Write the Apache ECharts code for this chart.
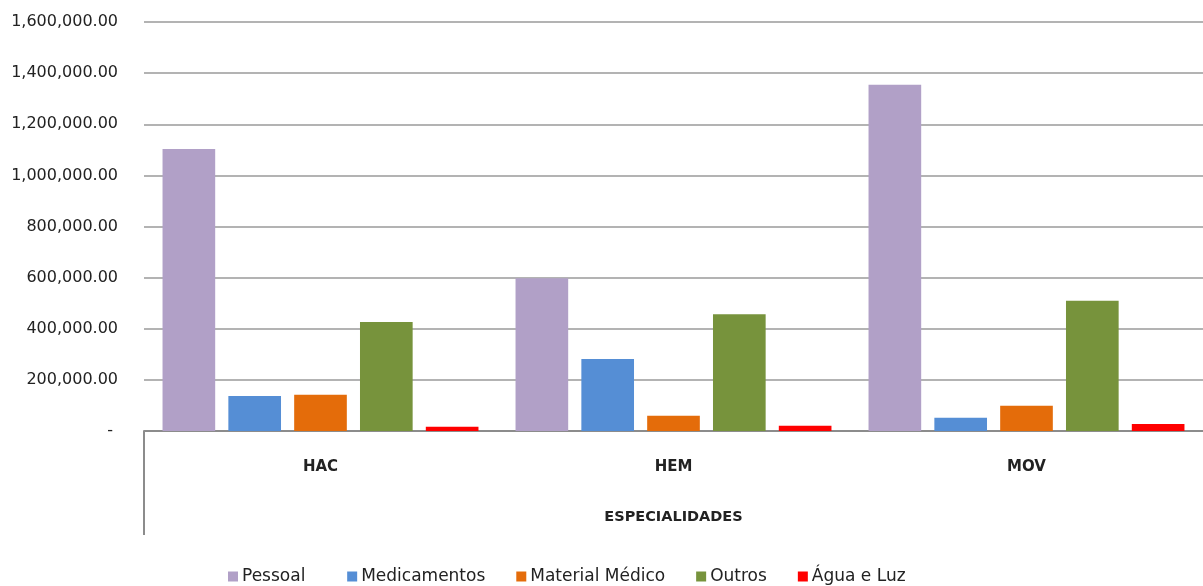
<!DOCTYPE html>
<html>
<head>
<meta charset="utf-8">
<script src="https://cdn.jsdelivr.net/npm/echarts@6/dist/echarts.min.js"></script>
<style>
  html, body { margin: 0; padding: 0; background: #fff; }
  #bar-chart { width: 1203px; height: 586px; }
</style>
</head>
<body>
<div id="bar-chart"></div>
<script>
// data
var especialidades = ['HAC', 'HEM', 'MOV'];
var pessoal = [1103000, 598000, 1355000];
var medicamentos = [137000, 282000, 52000];
var materialMedico = [142000, 60000, 99000];
var outros = [426000, 457000, 510000];
var aguaLuz = [17000, 21000, 27000];

var nomes = ['Pessoal', 'Medicamentos', 'Material Médico', 'Outros', 'Água e Luz'];
var cores = ['#b1a0c7', '#558ed5', '#e46c0a', '#77933c', '#ff0000'];

function fmt(v) {
  if (v === 0) return '- ';
  return v.toLocaleString('en-US', {minimumFractionDigits: 2, maximumFractionDigits: 2});
}

var myChart = echarts.init(document.getElementById('bar-chart'));

var valores = [pessoal, medicamentos, materialMedico, outros, aguaLuz];
var series = valores.map(function (d, i) {
  return {
    name: nomes[i],
    type: 'bar',
    data: d,
    barGap: '25%',
    barCategoryGap: '10.5%',
    itemStyle: { color: cores[i] }
  };
});

option = {
  animation: false,
  color: cores,
  grid: { left: 144, right: 0, top: 22, bottom: 155, containLabel: false },
  legend: {
    data: nomes,
    left: 228,
    bottom: 1,
    padding: 0,
    itemWidth: 10,
    itemHeight: 10,
    itemGap: 31,
    icon: 'rect',
    // Pessoal has a wider slot in the original legend
    formatter: function (name) {
      return name === 'Pessoal' ? name + '  ' : name;
    },
    textStyle: { fontFamily: 'DejaVu Sans', fontSize: 17, color: '#222', padding: [0, 0, 0, -1] }
  },
  xAxis: {
    type: 'category',
    data: especialidades,
    name: 'ESPECIALIDADES',
    nameLocation: 'middle',
    nameGap: 79,
    nameTextStyle: { fontFamily: 'DejaVu Sans', fontSize: 14.5, fontWeight: 'bold', color: '#222' },
    axisLine: { lineStyle: { color: '#8c8c8c', width: 2 } },
    axisTick: { show: false },
    axisLabel: { margin: 29, fontFamily: 'DejaVu Sans', fontSize: 15, fontWeight: 'bold', color: '#222' }
  },
  yAxis: {
    type: 'value',
    min: 0,
    max: 1600000,
    interval: 200000,
    axisLine: { show: false },
    axisTick: { show: false },
    axisLabel: {
      margin: 26,
      fontFamily: 'DejaVu Sans',
      fontSize: 16,
      color: '#222',
      formatter: fmt
    },
    splitLine: { lineStyle: { color: '#b3b3b3', width: 2 } }
  },
  graphic: [
    {
      type: 'line',
      shape: { x1: 144, y1: 431, x2: 144, y2: 535 },
      style: { stroke: '#8c8c8c', lineWidth: 2 }
    }
  ],
  series: series
};

myChart.setOption(option, true);
</script>
</body>
</html>
